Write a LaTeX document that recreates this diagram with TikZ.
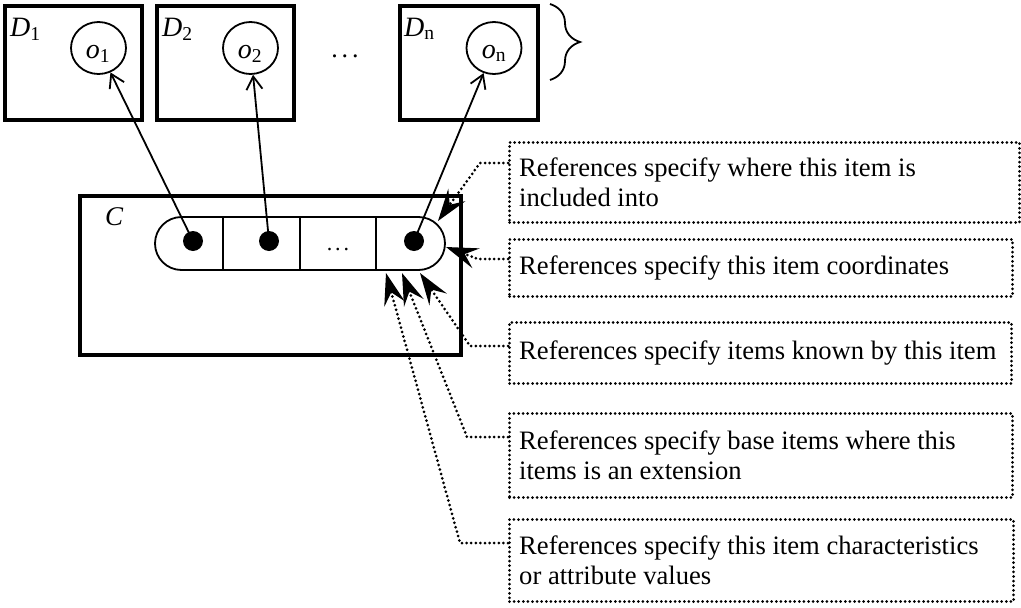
\documentclass[tikz,border=0pt]{standalone}
\usepackage{fontspec}
\setmainfont{Liberation Serif}
\usetikzlibrary{arrows.meta,shapes.geometric,shapes.misc,decorations.pathreplacing}
\begin{document}
\begin{tikzpicture}[x=1pt,y=-1pt,
  thickbox/.style={draw,line width=4pt,inner sep=0pt,anchor=north west},
  objcirc/.style={draw,ellipse,line width=1.8pt,minimum width=55pt,minimum height=52pt,inner sep=0pt},
  lbl/.style={inner sep=0pt,anchor=base west,font=\fontsize{28}{32}\selectfont},
  clbox/.style={draw,line width=3pt,dash pattern=on 0pt off 4.6pt,line cap=round,anchor=north west,inner sep=0pt},
  cltext/.style={anchor=west,align=left,inner sep=0pt,font=\fontsize{26.6}{29.5}\selectfont},
  refarrow/.style={line width=3pt,dash pattern=on 0pt off 4.6pt,line cap=round,-{Stealth[length=32pt,width=21pt,inset=12pt]}},
  objarrow/.style={line width=1.8pt,-{Straight Barb[length=13pt,width=16pt]}},
  dotmark/.style={circle,fill,inner sep=0pt,minimum size=20pt},
  thin/.style={line width=1.8pt}
]
\useasboundingbox (0,0) rectangle (1021,608);

% D boxes
\node[thickbox,minimum width=137pt,minimum height=114pt] (D1) at (3,4) {};
\node[thickbox,minimum width=137pt,minimum height=114pt] (D2) at (155,4) {};
\node[thickbox,minimum width=138pt,minimum height=114pt] (Dn) at (398,4) {};
\node[lbl] (D1t) at (10,36) {\textit{D}\textsubscript{1}};
\node[lbl] (D2t) at (162,36) {\textit{D}\textsubscript{2}};
\node[lbl] (Dnt) at (404,36) {\textit{D}\textsubscript{n}};
\node[objcirc] (o1) at (98.5,48) {};
\node[objcirc] (o2) at (250.5,48) {};
\node[objcirc] (on) at (494,48) {};
\node[lbl,anchor=base] (o1t) at (98,58) {\textit{o}\textsubscript{1}};
\node[lbl,anchor=base] (o2t) at (250,58) {\textit{o}\textsubscript{2}};
\node[lbl,anchor=base] (ont) at (494,58) {\textit{o}\textsubscript{n}};
\node[inner sep=0pt,anchor=base,font=\fontsize{26}{26}\selectfont] (topdots) at (345,57) {.\kern4pt.\kern4pt.};
\draw[thin,decorate,decoration={brace,amplitude=30pt}] (550,4) -- (550,80);

% C box and capsule
\node[thickbox,minimum width=381pt,minimum height=159pt] (C) at (78,194) {};
\node[lbl,font=\fontsize{27}{30}\selectfont] (Ct) at (105,225) {\textit{C}};
\node[draw,rounded rectangle,thin,minimum width=290pt,minimum height=53pt,inner sep=0pt] (cap) at (300,243.5) {};
\draw[thin] (223,0 |- cap.north) -- (223,0 |- cap.south);
\draw[thin] (300,0 |- cap.north) -- (300,0 |- cap.south);
\draw[thin] (376,0 |- cap.north) -- (376,0 |- cap.south);
\node[dotmark] (p1) at (193,241) {};
\node[dotmark] (p2) at (269,241) {};
\node[dotmark] (p3) at (414,241) {};
\node[inner sep=0pt,anchor=base,font=\fontsize{22}{22}\selectfont] (cdots) at (338,250) {.\kern3pt.\kern3pt.};

% references to objects
\draw[objarrow] (p1.center) -- (o1);
\draw[objarrow] (p2.center) -- (o2);
\draw[objarrow] (p3.center) -- (on);

% callout boxes
\node[clbox,minimum width=510pt,minimum height=80pt] (b1) at (508,141) {};
\node[clbox,minimum width=503pt,minimum height=57pt] (b2) at (508,238) {};
\node[clbox,minimum width=502pt,minimum height=61pt] (b3) at (508,321) {};
\node[clbox,minimum width=503pt,minimum height=84pt] (b4) at (508,412) {};
\node[clbox,minimum width=504pt,minimum height=82pt] (b5) at (508,518) {};
\node[cltext] (t1) at ([xshift=11pt]b1.west) {References specify where this item is\\included into};
\node[cltext] (t2) at ([xshift=11pt]b2.west) {References specify this item coordinates};
\node[cltext] (t3) at ([xshift=11pt]b3.west) {References specify items known by this item};
\node[cltext] (t4) at ([xshift=11pt]b4.west) {References specify base items where this\\items is an extension};
\node[cltext] (t5) at ([xshift=11pt]b5.west) {References specify this item characteristics\\or attribute values};

% arrow targets on the capsule
\coordinate (tip1) at (438,221);
\coordinate (tip2) at (446,247);
\coordinate (tip3) at (420,273);
\coordinate (tip4) at (402,273);
\coordinate (tip5) at (386,273);

\draw[refarrow] ([yshift=-22pt]b1.north west) -- ++(-28,0) -- (tip1);
\draw[refarrow] ([yshift=-21pt]b2.north west) -- ++(-30,0) -- (tip2);
\draw[refarrow] ([yshift=-25pt]b3.north west) -- ++(-38,0) -- (tip3);
\draw[refarrow] ([yshift=-25pt]b4.north west) -- ++(-41,0) -- (tip4);
\draw[refarrow] ([yshift=-25pt]b5.north west) -- ++(-48,0) -- (tip5);
\end{tikzpicture}
\end{document}
